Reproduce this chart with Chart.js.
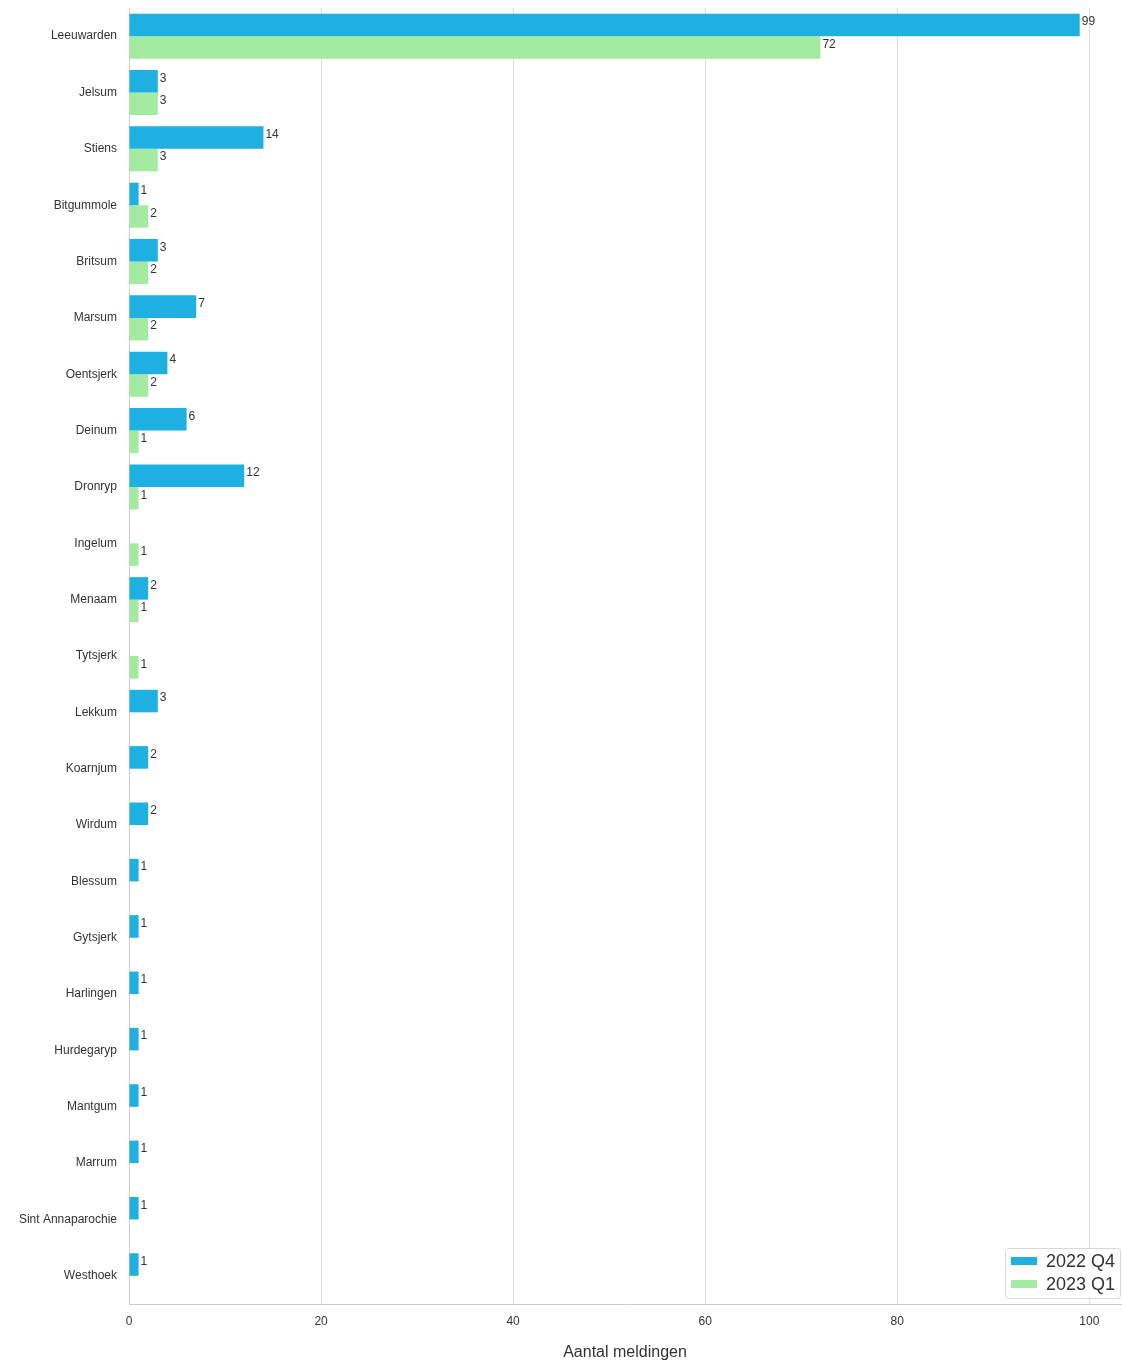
<!DOCTYPE html>
<html>
<head>
<meta charset="utf-8">
<script src="https://cdn.jsdelivr.net/npm/chart.js@4/dist/chart.umd.min.js"></script>
<style>
    html, body { margin: 0; padding: 0; background: #fff; }
    #wrap { width: 1122px; height: 1368px; position: relative; }
</style>
</head>
<body>
<div id="wrap"><canvas id="chart"></canvas></div>
<script>
"use strict";

// DATA
const places = [
    "Leeuwarden", "Jelsum", "Stiens", "Bitgummole", "Britsum", "Marsum",
    "Oentsjerk", "Deinum", "Dronryp", "Ingelum", "Menaam", "Tytsjerk",
    "Lekkum", "Koarnjum", "Wirdum", "Blessum", "Gytsjerk", "Harlingen",
    "Hurdegaryp", "Mantgum", "Marrum", "Sint Annaparochie", "Westhoek"
];
const q4_2022 = [99, 3, 14, 1, 3, 7, 4, 6, 12, null, 2, null, 3, 2, 2, 1, 1, 1, 1, 1, 1, 1, 1];
const q1_2023 = [72, 3, 3, 2, 2, 2, 2, 1, 1, 1, 1, 1, null, null, null, null, null, null, null, null, null, null, null];
const xTicks = [0, 20, 40, 60, 80, 100];
const seriesNames = ["2022 Q4", "2023 Q1"];

const FONT = "'Liberation Sans', Arial, sans-serif";
const TEXT = "#333333";

// value labels at the end of each bar
const valueLabels = {
    id: "valueLabels",
    afterDatasetsDraw(chart) {
        const ctx = chart.ctx;
        ctx.save();
        ctx.font = `12px ${FONT}`;
        ctx.fillStyle = TEXT;
        ctx.textAlign = "left";
        ctx.textBaseline = "middle";
        chart.data.datasets.forEach((ds, i) => {
            const meta = chart.getDatasetMeta(i);
            meta.data.forEach((bar, j) => {
                const v = ds.data[j];
                if (v === null || v === undefined) {
                    return;
                }
                ctx.fillText(String(v), bar.x + 2, bar.y - 3);
            });
        });
        ctx.restore();
    }
};

// legend box inside the plot, bottom right
const innerLegend = {
    id: "innerLegend",
    afterDraw(chart) {
        const { ctx, chartArea } = chart;
        const w = 115;
        const h = 50;
        const x = chartArea.right - w - 1;
        const y = chartArea.bottom - h - 6;
        ctx.save();
        ctx.fillStyle = "rgba(255,255,255,0.85)";
        ctx.strokeStyle = "#d8d8d8";
        ctx.lineWidth = 1;
        ctx.beginPath();
        ctx.roundRect(x + 0.5, y + 0.5, w, h, 3);
        ctx.fill();
        ctx.stroke();
        ctx.font = `18px ${FONT}`;
        ctx.textBaseline = "middle";
        chart.data.datasets.forEach((ds, i) => {
            const cy = y + 13 + i * 23;
            ctx.fillStyle = ds.backgroundColor;
            ctx.fillRect(x + 6, cy - 4, 26, 8);
            ctx.fillStyle = TEXT;
            ctx.fillText(ds.label, x + 41, cy + 1);
        });
        ctx.restore();
    }
};

const ctx = document.getElementById("chart").getContext("2d");
new Chart(ctx, {
    type: "bar",
    data: {
        labels: places,
        datasets: [
            { label: seriesNames[0], data: q4_2022, backgroundColor: "#1DB0E0" },
            { label: seriesNames[1], data: q1_2023, backgroundColor: "#A4EBA2" }
        ]
    },
    options: {
        indexAxis: "y",
        responsive: true,
        maintainAspectRatio: false,
        animation: false,
        layout: { padding: { top: 8, right: 1, left: 0, bottom: 0 } },
        datasets: {
            bar: { categoryPercentage: 0.8, barPercentage: 1.0, borderWidth: 0 }
        },
        plugins: {
            legend: { display: false },
            tooltip: { enabled: false }
        },
        scales: {
            x: {
                min: 0,
                max: 103.3,
                afterBuildTicks(axis) {
                    axis.ticks = xTicks.map((v) => ({ value: v }));
                },
                grid: { color: "#dddddd", drawTicks: false, lineWidth: 1 },
                border: { display: true, color: "#cccccc" },
                ticks: {
                    color: TEXT,
                    font: { family: FONT, size: 12 },
                    padding: 10
                },
                title: {
                    display: true,
                    text: "Aantal meldingen",
                    color: TEXT,
                    font: { family: FONT, size: 16 },
                    padding: { top: 10, bottom: 6 }
                },
                afterFit(axis) {
                    axis.height = 64;
                    axis.paddingLeft = 0;
                    axis.paddingRight = 0;
                }
            },
            y: {
                grid: { display: false, drawTicks: false },
                border: { display: true, color: "#cccccc" },
                ticks: {
                    color: TEXT,
                    font: { family: FONT, size: 12 },
                    padding: 12
                },
                afterFit(axis) {
                    axis.width = 129;
                    axis.paddingTop = 0;
                    axis.paddingBottom = 0;
                }
            }
        }
    },
    plugins: [valueLabels, innerLegend]
});
</script>
</body>
</html>
